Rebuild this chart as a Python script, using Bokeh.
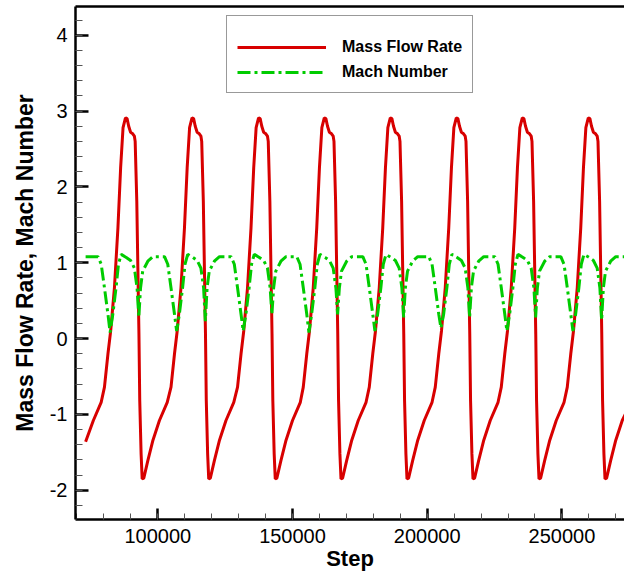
from bokeh.plotting import figure
from bokeh.models import (Legend, LinearAxis, SingleIntervalTicker, BasicTickFormatter,
                          PrintfTickFormatter, FixedTicker, Range1d)
from bokeh.embed import file_html
from bokeh.resources import INLINE

# ---------------- data ----------------
mfr_step = [
    73200, 76070, 78970, 80200, 81500, 82500, 83900, 85200, 86200, 87100,
    88000, 88600, 89200, 89900, 90700, 91300, 91600, 92200, 92600, 93000, 93300, 93800, 94200, 94800, 96300, 98200, 100600, 103500,
    104900, 106200, 107200, 108600, 109900, 110900, 111800,
    112700, 113300, 113900, 114600, 115400, 116000, 116300, 116900, 117300, 117700, 118000, 118500, 118900, 119500, 121000, 122900, 125300, 128200,
    129600, 130900, 131900, 133300, 134600, 135600, 136500,
    137400, 138000, 138600, 139300, 140100, 140700, 141000, 141600, 142000, 142400, 142700, 143200, 143600, 144200, 145700, 147600, 150000, 152900,
    154000, 155300, 156300, 157700, 159000, 160000, 160900,
    161800, 162400, 163000, 163700, 164500, 165100, 165400, 166000, 166400, 166800, 167100, 167600, 168000, 168600, 170100, 172000, 174400, 177300,
    178500, 179800, 180800, 182200, 183500, 184500, 185400,
    186300, 186900, 187500, 188200, 189000, 189600, 189900, 190500, 190900, 191300, 191600, 192100, 192500, 193100, 194600, 196500, 198900, 201800,
    203000, 204300, 205300, 206700, 208000, 209000, 209900,
    210800, 211400, 212000, 212700, 213500, 214100, 214400, 215000, 215400, 215800, 216100, 216600, 217000, 217600, 219100, 221000, 223400, 226300,
    227500, 228800, 229800, 231200, 232500, 233500, 234400,
    235300, 235900, 236500, 237200, 238000, 238600, 238900, 239500, 239900, 240300, 240600, 241100, 241500, 242100, 243600, 245500, 247900, 250800,
    252000, 253300, 254300, 255700, 257000, 258000, 258900,
    259800, 260400, 261000, 261700, 262500, 263100, 263400, 264000, 264400, 264800, 265100, 265600, 266000, 266600, 268100, 270000, 272400, 273800,
]
mfr_value = [
    -1.36, -1.08, -0.84, -0.64, -0.20, 0.10, 0.67, 1.46, 2.25, 2.78,
    2.91, 2.90, 2.80, 2.72, 2.70, 2.67, 2.60, 1.81, 0.93, 0.06, -0.82, -1.52, -1.85, -1.84, -1.61, -1.34, -1.08, -0.84,
    -0.64, -0.20, 0.10, 0.67, 1.46, 2.25, 2.78,
    2.91, 2.90, 2.80, 2.72, 2.70, 2.67, 2.60, 1.81, 0.93, 0.06, -0.82, -1.52, -1.85, -1.84, -1.61, -1.34, -1.08, -0.84,
    -0.64, -0.20, 0.10, 0.67, 1.46, 2.25, 2.78,
    2.91, 2.90, 2.80, 2.72, 2.70, 2.67, 2.60, 1.81, 0.93, 0.06, -0.82, -1.52, -1.85, -1.84, -1.61, -1.34, -1.08, -0.84,
    -0.64, -0.20, 0.10, 0.67, 1.46, 2.25, 2.78,
    2.91, 2.90, 2.80, 2.72, 2.70, 2.67, 2.60, 1.81, 0.93, 0.06, -0.82, -1.52, -1.85, -1.84, -1.61, -1.34, -1.08, -0.84,
    -0.64, -0.20, 0.10, 0.67, 1.46, 2.25, 2.78,
    2.91, 2.90, 2.80, 2.72, 2.70, 2.67, 2.60, 1.81, 0.93, 0.06, -0.82, -1.52, -1.85, -1.84, -1.61, -1.34, -1.08, -0.84,
    -0.64, -0.20, 0.10, 0.67, 1.46, 2.25, 2.78,
    2.91, 2.90, 2.80, 2.72, 2.70, 2.67, 2.60, 1.81, 0.93, 0.06, -0.82, -1.52, -1.85, -1.84, -1.61, -1.34, -1.08, -0.84,
    -0.64, -0.20, 0.10, 0.67, 1.46, 2.25, 2.78,
    2.91, 2.90, 2.80, 2.72, 2.70, 2.67, 2.60, 1.81, 0.93, 0.06, -0.82, -1.52, -1.85, -1.84, -1.61, -1.34, -1.08, -0.84,
    -0.64, -0.20, 0.10, 0.67, 1.46, 2.25, 2.78,
    2.91, 2.90, 2.80, 2.72, 2.70, 2.67, 2.60, 1.81, 0.93, 0.06, -0.82, -1.52, -1.85, -1.84, -1.61, -1.34, -1.08, -0.98,
]

mach_step = [
    73200, 77800, 79000, 80200, 81500, 82300, 83300, 84500, 85400, 86400,
    88300, 89900, 91300, 92300, 92950, 93600, 94400, 96300, 98200,
    102500, 103700, 104900, 106200, 107000, 108000, 109200, 110100, 111100,
    113000, 114600, 116000, 117000, 117650, 118300, 119100, 121000, 122900,
    127200, 128400, 129600, 130900, 131700, 132700, 133900, 134800, 135800,
    137700, 139300, 140700, 141700, 142350, 143000, 143800, 145700, 147600,
    151600, 152800, 154000, 155300, 156100, 157100, 158300, 159200, 160200,
    162100, 163700, 165100, 166100, 166750, 167400, 168200, 170100, 172000,
    176100, 177300, 178500, 179800, 180600, 181600, 182800, 183700, 184700,
    186600, 188200, 189600, 190600, 191250, 191900, 192700, 194600, 196500,
    200600, 201800, 203000, 204300, 205100, 206100, 207300, 208200, 209200,
    211100, 212700, 214100, 215100, 215750, 216400, 217200, 219100, 221000,
    225100, 226300, 227500, 228800, 229600, 230600, 231800, 232700, 233700,
    235600, 237200, 238600, 239600, 240250, 240900, 241700, 243600, 245500,
    249600, 250800, 252000, 253300, 254100, 255100, 256300, 257200, 258200,
    260100, 261700, 263100, 264100, 264750, 265400, 266200, 268100, 270000, 273800,
]
mach_value = [
    1.08, 1.08, 0.98, 0.67, 0.32, 0.08, 0.32, 0.67, 0.98, 1.11,
    1.07, 1.03, 0.93, 0.67, 0.28, 0.67, 0.89, 1.02, 1.08,
    1.08, 0.98, 0.67, 0.32, 0.10, 0.32, 0.67, 0.98, 1.11,
    1.07, 1.03, 0.93, 0.67, 0.23, 0.67, 0.89, 1.02, 1.08,
    1.08, 0.98, 0.67, 0.32, 0.10, 0.32, 0.67, 0.98, 1.11,
    1.07, 1.03, 0.93, 0.67, 0.32, 0.67, 0.89, 1.02, 1.08,
    1.08, 0.98, 0.67, 0.32, 0.08, 0.32, 0.67, 0.98, 1.11,
    1.07, 1.03, 0.93, 0.67, 0.32, 0.67, 0.89, 1.02, 1.08,
    1.08, 0.98, 0.67, 0.32, 0.10, 0.32, 0.67, 0.98, 1.11,
    1.07, 1.03, 0.93, 0.67, 0.28, 0.67, 0.89, 1.02, 1.08,
    1.08, 0.98, 0.67, 0.32, 0.14, 0.32, 0.67, 0.98, 1.11,
    1.07, 1.03, 0.93, 0.67, 0.28, 0.67, 0.89, 1.02, 1.08,
    1.08, 0.98, 0.67, 0.32, 0.10, 0.32, 0.67, 0.98, 1.11,
    1.07, 1.03, 0.93, 0.67, 0.28, 0.67, 0.89, 1.02, 1.08,
    1.08, 0.98, 0.67, 0.32, 0.10, 0.32, 0.67, 0.98, 1.11,
    1.07, 1.03, 0.93, 0.67, 0.24, 0.67, 0.89, 1.02, 1.08, 1.08,
]

series_names = ["Mass Flow Rate", "Mach Number"]
x_title = "Step"
y_title = "Mass Flow Rate, Mach Number"

# ---------------- figure ----------------
FONT = "Liberation Sans"
RED = "#d80000"
GREEN = "#00cc00"

p = figure(width=624, height=574, output_backend="svg", toolbar_location=None,
           x_range=Range1d(69450, 273240), y_range=Range1d(-2.385, 4.378),
           min_border_left=75, min_border_right=0, min_border_top=6, min_border_bottom=55,
           x_axis_type=None, y_axis_type=None)
p.outline_line_color = None
p.background_fill_color = "white"
p.border_fill_color = "white"

xaxis = LinearAxis(ticker=SingleIntervalTicker(interval=50000, num_minor_ticks=5),
                   formatter=BasicTickFormatter(use_scientific=False),
                   axis_label=x_title)
yaxis = LinearAxis(ticker=SingleIntervalTicker(interval=1, num_minor_ticks=5),
                   formatter=PrintfTickFormatter(format="%d"),
                   axis_label=y_title)
for ax in (xaxis, yaxis):
    ax.axis_line_width = 2.5
    ax.axis_line_color = "black"
    ax.major_tick_out = 0
    ax.minor_tick_out = 0
    ax.major_tick_line_width = 2.5
    ax.minor_tick_line_width = 1
    ax.major_tick_line_color = "black"
    ax.minor_tick_line_color = "#555555"
    ax.major_label_text_font = FONT
    ax.major_label_text_font_size = "20px"
    ax.major_label_text_color = "black"
    ax.axis_label_text_font = FONT
    ax.axis_label_text_font_style = "bold"
    ax.axis_label_text_color = "black"
xaxis.major_tick_in = 11
xaxis.minor_tick_in = 6
xaxis.major_label_standoff = 9
xaxis.axis_label_standoff = 0
xaxis.axis_label_text_font_size = "22px"
yaxis.major_tick_in = 13
yaxis.minor_tick_in = 7
yaxis.major_label_standoff = 8
yaxis.axis_label_standoff = 9
yaxis.axis_label_text_font_size = "23px"
p.add_layout(xaxis, "below")
p.add_layout(yaxis, "left")

top = LinearAxis(ticker=FixedTicker(ticks=[]), axis_line_width=2.5,
                 major_tick_out=0, major_tick_in=0, minor_tick_out=0, minor_tick_in=0,
                 major_label_standoff=0, major_label_text_font_size="0px")
p.add_layout(top, "above")

r_mfr = p.line(mfr_step, mfr_value, line_color=RED, line_width=3)
r_mach = p.line(mach_step, mach_value, line_color=GREEN, line_width=3,
                line_dash="13 4 3 4")

legend = Legend(items=[(series_names[0], [r_mfr]), (series_names[1], [r_mach])],
                location=(151, 426), orientation="vertical")
legend.title = " "
legend.title_text_font_size = "8px"
legend.title_standoff = 2
legend.label_text_font = FONT
legend.label_text_font_size = "16px"
legend.label_text_font_style = "bold"
legend.label_text_color = "black"
legend.glyph_width = 89
legend.glyph_height = 20
legend.label_height = 20
legend.label_standoff = 16
legend.spacing = 5
legend.padding = 10
legend.margin = 0
legend.border_line_color = "#333333"
legend.border_line_width = 1.5
legend.background_fill_alpha = 1.0
p.add_layout(legend, "center")

open("out.html", "w").write(file_html(p, INLINE))
